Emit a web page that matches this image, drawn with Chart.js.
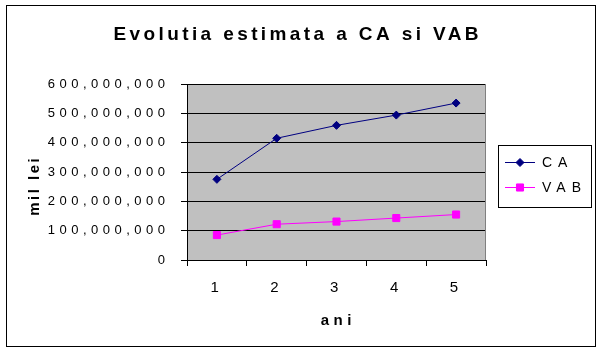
<!DOCTYPE html>
<html>
<head>
<meta charset="utf-8">
<script src="https://cdn.jsdelivr.net/npm/chart.js@4.4.1/dist/chart.umd.min.js"></script>
<style>
  html, body { margin: 0; padding: 0; background: #fff; }
  #wrap { width: 603px; height: 353px; }
</style>
</head>
<body>
<div id="wrap"><canvas id="chart" width="603" height="353"></canvas></div>
<script>
const years = ["1", "2", "3", "4", "5"];
const caValues = [275000000, 415000000, 459000000, 494000000, 535000000];
const vabValues = [85000000, 122000000, 131000000, 143000000, 155000000];
const seriesNames = ["CA", "VAB"];
const yTicks = [0, 100000000, 200000000, 300000000, 400000000, 500000000, 600000000];

const FONT = "'Liberation Sans', Arial, sans-serif";

// draws the gray plot area before anything else
const plotBackground = {
  id: "plotBackground",
  beforeDraw(chart) {
    const { ctx, chartArea: a } = chart;
    ctx.save();
    ctx.fillStyle = "#fff";
    ctx.fillRect(0, 0, chart.width, chart.height);
    ctx.fillStyle = "#c0c0c0";
    ctx.fillRect(a.left, a.top, a.right - a.left, a.bottom - a.top);
    ctx.restore();
    // wide spaced text like the excel picture
    ctx.letterSpacing = "4.5px";
  },
  beforeDatasetsDraw(chart) {
    const { ctx, chartArea: a } = chart;
    ctx.save();
    ctx.strokeStyle = "#808080";
    ctx.lineWidth = 1;
    ctx.beginPath();
    ctx.moveTo(Math.round(a.right) - 0.5, a.top);
    ctx.lineTo(Math.round(a.right) - 0.5, a.bottom);
    ctx.stroke();
    ctx.restore();
  }
};

function spacedText(ctx, text, x, y, font, spacing, align) {
  ctx.save();
  ctx.font = font;
  ctx.letterSpacing = spacing + "px";
  ctx.fillStyle = "#000";
  ctx.textBaseline = "middle";
  const w = ctx.measureText(text).width - spacing;
  let sx = x;
  if (align === "center") sx = x - w / 2;
  if (align === "right") sx = x - w;
  ctx.textAlign = "left";
  ctx.fillText(text, sx, y);
  ctx.restore();
}

// frame, title, axis titles and legend
const decorations = {
  id: "decorations",
  afterDraw(chart) {
    const ctx = chart.ctx;
    ctx.save();
    ctx.strokeStyle = "#000";
    ctx.lineWidth = 1;
    ctx.strokeRect(6.5, 5.5, 589, 341);

    spacedText(ctx, "Evolutia estimata a CA si VAB", 296, 35, "bold 19px " + FONT, 3.4, "center");
    spacedText(ctx, "ani", 336, 321, "bold 15px " + FONT, 4.5, "center");

    ctx.save();
    ctx.translate(35, 187);
    ctx.rotate(-Math.PI / 2);
    spacedText(ctx, "mil lei", 0, 0, "bold 15px " + FONT, 2.5, "center");
    ctx.restore();

    // legend
    ctx.strokeRect(498.5, 145.5, 93, 62);
    const rows = [162, 187];
    chart.data.datasets.forEach((ds, i) => {
      const y = rows[i];
      ctx.strokeStyle = ds.borderColor;
      ctx.lineWidth = 1;
      ctx.beginPath();
      ctx.moveTo(505, y + 0.5);
      ctx.lineTo(535, y + 0.5);
      ctx.stroke();
      ctx.fillStyle = ds.backgroundColor;
      Chart.helpers.drawPoint(ctx, {
        pointStyle: ds.pointStyle,
        radius: ds.pointRadius,
        borderWidth: 1
      }, 520, y + 0.5);
      spacedText(ctx, ds.label, 542, y + 1, "14px " + FONT, 6, "left");
    });
    ctx.restore();
  }
};

new Chart(document.getElementById("chart"), {
  type: "line",
  data: {
    labels: years,
    datasets: [
      {
        label: seriesNames[0],
        data: caValues,
        borderColor: "#000080",
        backgroundColor: "#000080",
        borderWidth: 1,
        pointStyle: "rectRot",
        pointRadius: 4,
        pointBorderWidth: 1,
        tension: 0
      },
      {
        label: seriesNames[1],
        data: vabValues,
        borderColor: "#ff00ff",
        backgroundColor: "#ff00ff",
        borderWidth: 1,
        pointStyle: "rect",
        pointRadius: 5,
        pointBorderWidth: 1,
        tension: 0
      }
    ]
  },
  options: {
    responsive: false,
    animation: false,
    devicePixelRatio: 1,
    layout: { padding: { left: 0, right: 117, top: 84, bottom: 0 } },
    plugins: {
      legend: { display: false },
      title: { display: false },
      tooltip: { enabled: false }
    },
    scales: {
      x: {
        offset: true,
        afterFit(scale) { scale.height = 93; },
        grid: {
          offset: true,
          drawOnChartArea: false,
          color: "#000",
          tickLength: 6
        },
        border: { color: "#000", width: 1 },
        ticks: {
          color: "#000",
          padding: 13,
          font: { family: FONT, size: 15 }
        }
      },
      y: {
        min: 0,
        max: 600000000,
        afterFit(scale) { scale.width = 187; },
        afterBuildTicks(scale) {
          scale.ticks = yTicks.map(v => ({ value: v }));
        },
        grid: {
          color: "#000",
          tickLength: 6
        },
        border: { color: "#000", width: 1 },
        ticks: {
          color: "#000",
          padding: 11.5,
          font: { family: FONT, size: 13 },
          callback: v => v === 0 ? "0" : v.toLocaleString("en-US")
        }
      }
    }
  },
  plugins: [plotBackground, decorations]
});
</script>
</body>
</html>
